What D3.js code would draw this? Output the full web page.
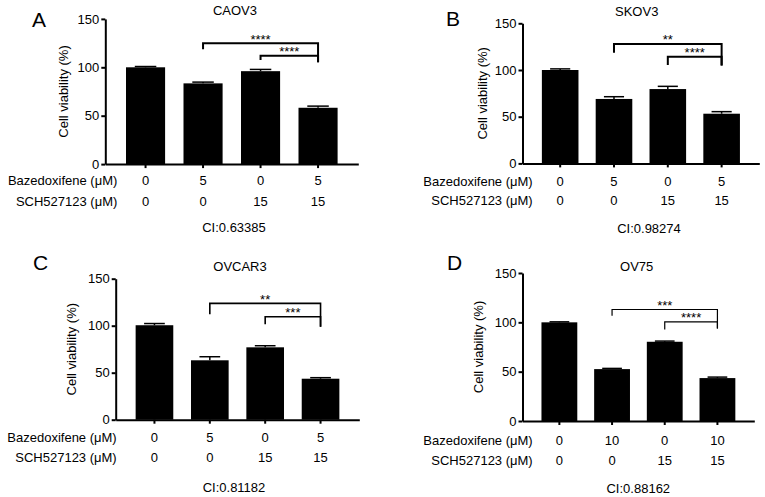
<!DOCTYPE html>
<html>
<head>
<meta charset="utf-8">
<script src="https://cdn.jsdelivr.net/npm/d3@7"></script>
<style>
  html, body { margin: 0; padding: 0; background: #fff; }
  svg { display: block; font-family: "Liberation Sans", Arial, Helvetica, sans-serif; }
</style>
</head>
<body>
<svg id="chart" width="765" height="497"></svg>
<script>
// ---------------- DATA ----------------
const panelLetters = ["A", "B", "C", "D"];
const cellLines = ["CAOV3", "SKOV3", "OVCAR3", "OV75"];
const ciLabels = ["CI:0.63385", "CI:0.98274", "CI:0.81182", "CI:0.88162"];
const yTicks = [0, 50, 100, 150];
const yLabel = "Cell viability (%)";
const rowLabel1 = "Bazedoxifene (\u03BCM)";
const rowLabel2 = "SCH527123 (\u03BCM)";

// Bazedoxifene doses per panel
const bzaA = [0, 5, 0, 5];
const bzaB = [0, 5, 0, 5];
const bzaC = [0, 5, 0, 5];
const bzaD = [0, 10, 0, 10];
// SCH527123 doses per panel
const schA = [0, 0, 15, 15];
const schB = [0, 0, 15, 15];
const schC = [0, 0, 15, 15];
const schD = [0, 0, 15, 15];

// Mean viability (%)
const meanA = [100, 83.4, 96, 58.2];
const meanB = [100, 69, 79.6, 53.2];
const meanC = [100.5, 63.2, 77, 43.6];
const meanD = [100, 52.6, 80.3, 43.5];
// Error (upper only)
const errA = [0.8, 1.3, 1.8, 1.7];
const errB = [1.2, 2.4, 2.9, 2.2];
const errC = [1.8, 3.8, 1.7, 1.1];
const errD = [0.5, 0.7, 0.7, 1.0];

// Significance brackets: [fromIndex, toIndex, lineValue, leftLegEnd, rightLegEnd, label]
const sigA = [[1, 3, 124.8, 118.6, 105.2, "****"], [2, 3, 112, 107.5, 105.2, "****"]];
const sigB = [[1, 3, 127.9, 118.6, 104.7, "**"], [2, 3, 114.3, 105.4, 104.7, "****"]];
const sigC = [[1, 3, 123.8, 112.1, 98.9, "**"], [2, 3, 109.6, 101.5, 98.9, "***"]];
const sigD = [[1, 3, 113, 106.6, 93.8, "***"], [2, 3, 100.5, 92.8, 93.8, "****"]];

// ---------------- LAYOUT ----------------
const layouts = [
  { x0: 105.3, x1: 358.3, yTop: 18.9, yBot: 164.1, letterX: 32, letterY: 27, titleX: 235, titleY: 15.4,
    rowRight: 117.3, row1Y: 185.4, row2Y: 205.7, ciX: 234, ciY: 232, ylabX: 63.3, brW: 2 },
  { x0: 522.5, x1: 759.3, yTop: 23.3, yBot: 163.4, letterX: 446, letterY: 26, titleX: 636.7, titleY: 16.4,
    rowRight: 532.7, row1Y: 186.4, row2Y: 205.4, ciX: 649, ciY: 233, ylabX: 482, brW: 2 },
  { x0: 115.7, x1: 359.3, yTop: 278.7, yBot: 419.7, letterX: 33, letterY: 270, titleX: 240, titleY: 271.4,
    rowRight: 116.7, row1Y: 442.4, row2Y: 462, ciX: 234, ciY: 492, ylabX: 71.7, brW: 1.6 },
  { x0: 522.5, x1: 754.3, yTop: 273, yBot: 421, letterX: 447, letterY: 270, titleX: 636.7, titleY: 271.4,
    rowRight: 532.7, row1Y: 444.7, row2Y: 464.7, ciX: 638.3, ciY: 493, ylabX: 478, brW: 1.2 }
];

const panels = [
  { mean: meanA, err: errA, bza: bzaA, sch: schA, sig: sigA },
  { mean: meanB, err: errB, bza: bzaB, sch: schB, sig: sigB },
  { mean: meanC, err: errC, bza: bzaC, sch: schC, sig: sigC },
  { mean: meanD, err: errD, bza: bzaD, sch: schD, sig: sigD }
];

const svg = d3.select("#chart");

panels.forEach((p, i) => {
  const L = layouts[i];
  const g = svg.append("g");
  const idx = d3.range(p.mean.length);

  const x = d3.scaleBand().domain(idx).range([L.x0, L.x1]).paddingInner(0.32).paddingOuter(0.36);
  const y = d3.scaleLinear().domain([0, 150]).range([L.yBot, L.yTop]);
  const cx = d => x(d) + x.bandwidth() / 2;

  // bars
  g.selectAll("rect.bar").data(idx).join("rect")
    .attr("class", "bar")
    .attr("x", d => x(d))
    .attr("width", x.bandwidth())
    .attr("y", d => y(p.mean[d]))
    .attr("height", d => y(0) - y(p.mean[d]))
    .attr("fill", "#000");

  // error bars (upper)
  const capW = x.bandwidth() * 0.55;
  g.selectAll("line.err").data(idx).join("line")
    .attr("x1", d => cx(d)).attr("x2", d => cx(d))
    .attr("y1", d => y(p.mean[d])).attr("y2", d => y(p.mean[d] + p.err[d]))
    .attr("stroke", "#000").attr("stroke-width", 1.5);
  g.selectAll("line.cap").data(idx).join("line")
    .attr("x1", d => cx(d) - capW / 2).attr("x2", d => cx(d) + capW / 2)
    .attr("y1", d => y(p.mean[d] + p.err[d])).attr("y2", d => y(p.mean[d] + p.err[d]))
    .attr("stroke", "#000").attr("stroke-width", 1.5);

  // y axis
  const ya = g.append("g").attr("transform", `translate(${L.x0},0)`)
    .call(d3.axisLeft(y).tickValues(yTicks).tickSize(4).tickSizeOuter(0).tickPadding(2));
  ya.select(".domain").attr("stroke-width", 2);
  ya.selectAll(".tick line").attr("stroke-width", 2);
  ya.selectAll(".tick text").attr("font-size", 13).attr("fill", "#000")
    .attr("font-family", "Liberation Sans, Arial, sans-serif");

  // x axis
  const xa = g.append("g").attr("transform", `translate(0,${L.yBot})`)
    .call(d3.axisBottom(x).tickSize(4).tickSizeOuter(0).tickFormat(""));
  xa.select(".domain").attr("stroke-width", 2);
  xa.selectAll(".tick line").attr("stroke-width", 2);

  // y label
  g.append("text")
    .attr("transform", `translate(${L.ylabX + 4.5},${(L.yTop + L.yBot) / 2}) rotate(-90)`)
    .attr("text-anchor", "middle").attr("font-size", 13).text(yLabel);

  // panel letter
  g.append("text").attr("x", L.letterX).attr("y", L.letterY)
    .attr("font-size", 21).text(panelLetters[i]);

  // title
  g.append("text").attr("x", L.titleX).attr("y", L.titleY)
    .attr("text-anchor", "middle").attr("font-size", 13).text(cellLines[i]);

  // dose rows
  g.append("text").attr("x", L.rowRight).attr("y", L.row1Y)
    .attr("text-anchor", "end").attr("font-size", 13).text(rowLabel1);
  g.append("text").attr("x", L.rowRight).attr("y", L.row2Y)
    .attr("text-anchor", "end").attr("font-size", 13).text(rowLabel2);
  g.selectAll("text.r1").data(idx).join("text").attr("class", "r1")
    .attr("x", d => cx(d)).attr("y", L.row1Y)
    .attr("text-anchor", "middle").attr("font-size", 13).text(d => p.bza[d]);
  g.selectAll("text.r2").data(idx).join("text").attr("class", "r2")
    .attr("x", d => cx(d)).attr("y", L.row2Y)
    .attr("text-anchor", "middle").attr("font-size", 13).text(d => p.sch[d]);

  // CI
  g.append("text").attr("x", L.ciX).attr("y", L.ciY)
    .attr("text-anchor", "middle").attr("font-size", 13).text(ciLabels[i]);

  // significance brackets
  p.sig.forEach(s => {
    const [a, b, lv, leftEnd, rightEnd, lab] = s;
    const xa1 = cx(a), xb1 = cx(b);
    g.append("path")
      .attr("d", `M${xa1},${y(leftEnd)}V${y(lv)}H${xb1}V${y(rightEnd)}`)
      .attr("fill", "none").attr("stroke", "#000").attr("stroke-width", L.brW);
    g.append("text").attr("x", (xa1 + xb1) / 2).attr("y", y(lv) + 0.5)
      .attr("text-anchor", "middle").attr("font-size", 13).text(lab);
  });
});
</script>
</body>
</html>
